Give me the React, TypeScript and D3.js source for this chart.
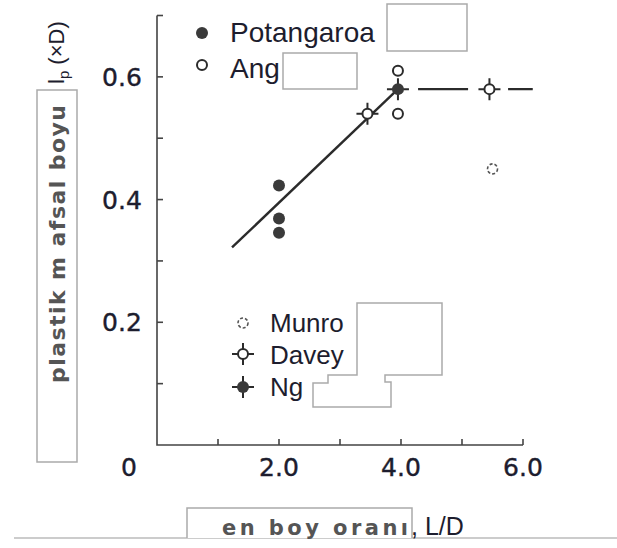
import React from 'react';
import * as d3 from 'd3';

// veriler
const potangaroa = [
  { x: 2.0, y: 0.423 },
  { x: 2.0, y: 0.369 },
  { x: 2.0, y: 0.346 },
];
const ang = [
  { x: 3.95, y: 0.61 },
  { x: 3.95, y: 0.54 },
];
const munro = [{ x: 5.5, y: 0.45 }];
const davey = [
  { x: 3.45, y: 0.54 },
  { x: 5.45, y: 0.58 },
];
const ng = [{ x: 3.95, y: 0.58 }];
const fitLine = [
  { x: 1.23, y: 0.322 },
  { x: 3.95, y: 0.58 },
];
const plateau = [
  { x: 4.28, y: 0.58 },
  { x: 6.16, y: 0.58 },
];
const yTickLabels = [0.2, 0.4, 0.6];
const xTickLabels = [2, 4, 6];
const yMinorTicks = [0.1, 0.2, 0.3, 0.4, 0.5, 0.6, 0.7];
const xMinorTicks = [1, 2, 3, 4, 5, 6];

const W = 617, H = 548;
const x = d3.scaleLinear().domain([0, 6]).range([157, 523]);
const y = d3.scaleLinear().domain([0, 0.7]).range([445, 15.5]);

const INK = '#2b2b2b';
const FONT = 'Liberation Sans, Arial, sans-serif';
const WIDE = 'DejaVu Sans, Verdana, sans-serif';

const line = d3.line<{ x: number; y: number }>().x(d => x(d.x)).y(d => y(d.y));

// işaretçiler
const Filled = ({ cx, cy }: { cx: number; cy: number }) => (
  <circle cx={cx} cy={cy} r={6} fill="#3a3a3a" />
);
const Open = ({ cx, cy }: { cx: number; cy: number }) => (
  <circle cx={cx} cy={cy} r={5} fill="#fff" stroke={INK} strokeWidth={2} />
);
const Dotted = ({ cx, cy }: { cx: number; cy: number }) => (
  <circle cx={cx} cy={cy} r={5} fill="#fff" stroke="#555" strokeWidth={1.6} strokeDasharray="3 2" />
);
const Star = ({ cx, cy, filled }: { cx: number; cy: number; filled: boolean }) => (
  <g>
    <path d={`M${cx - 11},${cy}H${cx + 11}M${cx},${cy - 11}V${cy + 11}`} stroke={INK} strokeWidth={2} />
    <circle cx={cx} cy={cy} r={filled ? 6 : 5} fill={filled ? '#3a3a3a' : '#fff'} stroke={INK} strokeWidth={filled ? 0 : 2} />
  </g>
);

const Box = ({ d }: { d: string }) => <path d={d} fill="#fff" stroke="#aaa" strokeWidth={1.5} />;

export default function App() {
  return (
    <svg width={W} height={H} style={{ position: 'absolute', left: 0, top: 0, background: '#fff' }} fontFamily={FONT}>
      {/* eksenler */}
      <path d={`M${x(0)},${y(0.7)}V${y(0)}H${x(6)}`} fill="none" stroke="#444" strokeWidth={1.6} />
      {yMinorTicks.map(t => (
        <line key={'yt' + t} x1={x(0)} x2={x(0) + 6} y1={y(t)} y2={y(t)} stroke="#444" strokeWidth={1.6} />
      ))}
      {xMinorTicks.map(t => (
        <line key={'xt' + t} x1={x(t)} x2={x(t)} y1={y(0)} y2={y(0) - 6} stroke="#444" strokeWidth={1.6} />
      ))}
      {yTickLabels.map(t => (
        <text key={'yl' + t} x={122} y={y(t)} dy="0.36em" textAnchor="middle" fontFamily={WIDE} fontSize={25} fill="#1d1d2e" stroke="#1d1d2e" strokeWidth={0.4}>
          {t.toFixed(1)}
        </text>
      ))}
      {xTickLabels.map(t => (
        <text key={'xl' + t} x={x(t)} y={467} dy="0.36em" textAnchor="middle" fontFamily={WIDE} fontSize={25} fill="#1d1d2e" stroke="#1d1d2e" strokeWidth={0.4}>
          {t.toFixed(1)}
        </text>
      ))}
      <text x={129} y={467} dy="0.36em" textAnchor="middle" fontFamily={WIDE} fontSize={25} fill="#1d1d2e" stroke="#1d1d2e" strokeWidth={0.4}>0</text>

      {/* çizgiler */}
      <path d={line(fitLine) || ''} fill="none" stroke={INK} strokeWidth={2.4} />
      <path d={line(plateau) || ''} fill="none" stroke={INK} strokeWidth={2.4} strokeDasharray="50 40" />

      {/* noktalar */}
      {potangaroa.map((d, i) => <Filled key={'p' + i} cx={x(d.x)} cy={y(d.y)} />)}
      {ang.map((d, i) => <Open key={'a' + i} cx={x(d.x)} cy={y(d.y)} />)}
      {munro.map((d, i) => <Dotted key={'m' + i} cx={x(d.x)} cy={y(d.y)} />)}
      {davey.map((d, i) => <Star key={'d' + i} cx={x(d.x)} cy={y(d.y)} filled={false} />)}
      {ng.map((d, i) => <Star key={'n' + i} cx={x(d.x)} cy={y(d.y)} filled={true} />)}

      {/* lejant üst */}
      <Filled cx={202} cy={33} />
      <text x={230} y={42} fontSize={28} fill="#1d1d2e">Potangaroa</text>
      <Open cx={202} cy={65} />
      <text x={230} y={78} fontSize={28} fill="#1d1d2e">Ang</text>
      <Box d="M387,4H467V51H387Z" />
      <Box d="M283,53H357V89H283Z" />

      {/* lejant alt */}
      <Dotted cx={243} cy={323} />
      <text x={270} y={332} fontSize={26} fill="#1d1d2e">Munro</text>
      <Star cx={243} cy={354} filled={false} />
      <text x={270} y={364} fontSize={26} fill="#1d1d2e">Davey</text>
      <Star cx={243} cy={387} filled={true} />
      <text x={270} y={396} fontSize={26} fill="#1d1d2e">Ng</text>
      <Box d="M357,303H442V375H385V382H391V407H313V383H328V375H357Z" />

      {/* y ekseni başlığı */}
      <Box d="M37,90H77V462H37Z" />
      <text transform="translate(65,383) rotate(-90)" fontFamily={WIDE} fontSize={22} fontWeight="bold" fill="#555" textLength={278} lengthAdjust="spacing">
        plastik m afsal boyu
      </text>
      <text transform="translate(64,84) rotate(-90)" fontSize={22} fill="#1d1d2e">
        l<tspan fontSize={15} dy={5}>p</tspan><tspan dy={-5}> (×D)</tspan>
      </text>

      {/* x ekseni başlığı */}
      <line x1={14} x2={W} y1={538} y2={538} stroke="#999" strokeWidth={1.2} />
      <path d="M187,538V508H412V538" fill="#fff" stroke="#aaa" strokeWidth={1.5} />
      <text x={222} y={535} fontFamily={WIDE} fontSize={21} fontWeight="bold" fill="#555" textLength={186} lengthAdjust="spacing">
        en boy oranı
      </text>
      <text x={411} y={535} fontSize={25} fill="#1d1d2e">, L/D</text>
    </svg>
  );
}
